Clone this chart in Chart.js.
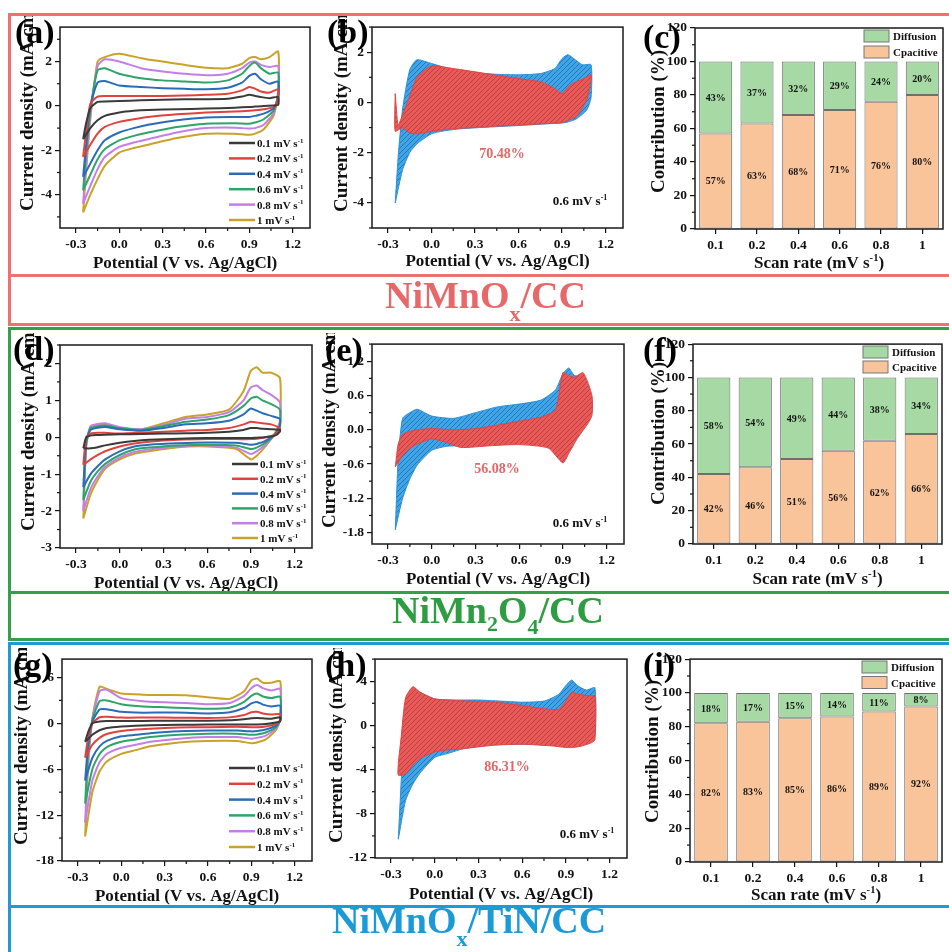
<!DOCTYPE html>
<html>
<head>
<meta charset="utf-8">
<script src="https://cdn.jsdelivr.net/npm/chart.js@4.4.1/dist/chart.umd.min.js"></script>
<style>
html, body { margin: 0; padding: 0; background: #fff; }
body { width: 949px; height: 952px; position: relative; overflow: hidden; font-family: 'Liberation Serif', 'Times New Roman', serif; }
#charts canvas { position: absolute; }
.frame { position: absolute; box-sizing: border-box; border: 3px solid; border-right: none; width: 945px; }
.hline { position: absolute; left: 8px; width: 941px; height: 3px; }
.lab { position: absolute; font-weight: bold; font-size: 34px; line-height: 34px; color: #000; }
.big { position: absolute; font-weight: bold; font-size: 38px; line-height: 38px; white-space: nowrap; }
.big sub { font-size: 22px; line-height: 0; }
</style>
</head>
<body>
<div id="charts"></div>

<div class="frame" style="left:8px;top:13px;height:313px;border-color:#ee7070"></div>
<div class="hline" style="top:274px;background:#ee7070"></div>
<div class="frame" style="left:8px;top:327px;height:314px;border-color:#34a04a"></div>
<div class="hline" style="top:591px;background:#34a04a"></div>
<div class="frame" style="left:8px;top:642px;height:400px;border-color:#1e9ad6"></div>
<div class="hline" style="top:905px;background:#1e9ad6"></div>

<div class="big" style="left:385px;top:276px;color:#e8686a">NiMnO<sub style="vertical-align:-13px">x</sub>/CC</div>
<div class="big" style="left:392px;top:591px;color:#2e9c40">NiMn<sub style="vertical-align:-8px">2</sub>O<sub style="vertical-align:-11px">4</sub>/CC</div>
<div class="big" style="left:332px;top:901px;color:#1b9ad8">NiMnO<sub style="vertical-align:-13px">x</sub>/TiN/CC</div>

<div class="lab" style="left:15px;top:15px">(a)</div>
<div class="lab" style="left:327px;top:15px">(b)</div>
<div class="lab" style="left:643px;top:20px">(c)</div>
<div class="lab" style="left:13px;top:332px">(d)</div>
<div class="lab" style="left:325px;top:333px">(e)</div>
<div class="lab" style="left:643px;top:333px">(f)</div>
<div class="lab" style="left:13px;top:648px">(g)</div>
<div class="lab" style="left:325px;top:648px">(h)</div>
<div class="lab" style="left:643px;top:648px">(i)</div>

<script>
// potential grids (V vs. Ag/AgCl): anodic sweep, then cathodic sweep
var potUp = [-0.25, -0.23, -0.2, -0.15, -0.1, 0.0, 0.15, 0.3, 0.45, 0.6, 0.75, 0.85, 0.9, 0.94, 0.98, 1.04, 1.1];
var potDown = [1.1, 1.07, 1.0, 0.94, 0.9, 0.8, 0.6, 0.4, 0.2, 0.1, 0.0, -0.1, -0.15, -0.2, -0.25];
var rateNames = ['0.1', '0.2', '0.4', '0.6', '0.8', '1'];
var cvColors = ['#3a3a3a', '#e0423d', '#2a6cb8', '#2ea36a', '#c47ee6', '#c9a228'];

// (a) NiMnOx/CC CV curves, one row per scan rate
var aUp = [
	[-1.5, -0.8, -0.1, 0.18, 0.2, 0.22, 0.25, 0.28, 0.3, 0.3, 0.32, 0.42, 0.5, 0.45, 0.4, 0.35, 0.4],
	[-2.3, -1.2, 0.1, 0.42, 0.45, 0.45, 0.45, 0.45, 0.47, 0.5, 0.55, 0.7, 0.85, 0.78, 0.65, 0.6, 0.75],
	[-3.2, -1.8, 0.0, 1.05, 1.12, 0.92, 0.85, 0.8, 0.77, 0.75, 0.82, 1.05, 1.35, 1.45, 1.2, 1.0, 1.1],
	[-3.8, -2.2, -0.2, 1.6, 1.7, 1.45, 1.25, 1.15, 1.1, 1.05, 1.15, 1.45, 1.8, 1.95, 1.7, 1.45, 1.5],
	[-4.4, -2.7, -0.4, 1.8, 2.1, 2.0, 1.7, 1.55, 1.45, 1.38, 1.45, 1.7, 1.95, 2.0, 1.85, 1.75, 1.8],
	[-4.8, -3.0, -0.6, 2.0, 2.2, 2.35, 2.15, 2.0, 1.85, 1.72, 1.7, 1.9, 2.15, 2.2, 2.1, 2.2, 2.45]
];
var aDown = [
	[0.05, 0.02, 0.0, -0.03, -0.05, -0.08, -0.12, -0.15, -0.18, -0.22, -0.3, -0.45, -0.65, -1.0, -1.5],
	[0.3, -0.05, -0.15, -0.2, -0.22, -0.25, -0.3, -0.38, -0.5, -0.6, -0.72, -0.95, -1.25, -1.75, -2.3],
	[0.4, -0.1, -0.35, -0.45, -0.5, -0.5, -0.52, -0.65, -0.85, -1.0, -1.2, -1.55, -2.0, -2.6, -3.2],
	[0.5, -0.2, -0.6, -0.75, -0.8, -0.78, -0.8, -0.95, -1.2, -1.35, -1.55, -1.95, -2.4, -3.1, -3.8],
	[0.6, -0.3, -0.85, -1.0, -1.02, -0.98, -1.0, -1.2, -1.5, -1.65, -1.85, -2.3, -2.85, -3.6, -4.4],
	[0.7, -0.4, -1.05, -1.25, -1.3, -1.25, -1.25, -1.45, -1.75, -1.9, -2.1, -2.7, -3.3, -4.0, -4.8]
];

// (d) NiMn2O4/CC
var dUp = [
	[-0.3, 0.0, 0.05, 0.06, 0.07, 0.08, 0.09, 0.1, 0.11, 0.12, 0.15, 0.2, 0.25, 0.25, 0.23, 0.22, 0.2],
	[-0.75, 0.0, 0.1, 0.12, 0.12, 0.1, 0.12, 0.15, 0.18, 0.2, 0.25, 0.35, 0.42, 0.4, 0.38, 0.35, 0.25],
	[-1.35, -0.1, 0.2, 0.26, 0.28, 0.22, 0.18, 0.25, 0.35, 0.38, 0.45, 0.62, 0.78, 0.72, 0.65, 0.58, 0.5],
	[-1.7, -0.15, 0.25, 0.3, 0.32, 0.25, 0.2, 0.3, 0.42, 0.48, 0.6, 0.85, 1.05, 1.1, 1.0, 0.9, 0.75],
	[-2.0, -0.2, 0.3, 0.36, 0.38, 0.27, 0.22, 0.33, 0.5, 0.55, 0.68, 1.0, 1.35, 1.4, 1.28, 1.15, 0.95],
	[-2.2, -0.25, 0.3, 0.34, 0.35, 0.25, 0.22, 0.38, 0.55, 0.62, 0.75, 1.25, 1.8, 1.9, 1.75, 1.75, 1.6]
];
var dDown = [
	[0.15, 0.05, 0.0, -0.01, -0.02, -0.02, -0.02, -0.04, -0.07, -0.1, -0.15, -0.22, -0.27, -0.3, -0.3],
	[0.2, 0.08, 0.0, -0.04, -0.05, -0.05, -0.05, -0.07, -0.12, -0.17, -0.25, -0.38, -0.48, -0.6, -0.75],
	[0.3, 0.1, -0.1, -0.18, -0.2, -0.15, -0.14, -0.16, -0.2, -0.25, -0.38, -0.6, -0.78, -1.0, -1.35],
	[0.35, 0.1, -0.15, -0.28, -0.32, -0.22, -0.2, -0.22, -0.28, -0.33, -0.48, -0.72, -0.92, -1.2, -1.7],
	[0.4, 0.1, -0.2, -0.38, -0.45, -0.28, -0.22, -0.25, -0.33, -0.4, -0.55, -0.8, -1.05, -1.4, -2.0],
	[0.45, 0.15, -0.25, -0.5, -0.6, -0.32, -0.25, -0.27, -0.38, -0.45, -0.6, -0.85, -1.15, -1.55, -2.2]
];

// (g) NiMnOx/TiN/CC
var gUp = [
	[-2.4, -1.2, 0.0, 0.25, 0.3, 0.3, 0.32, 0.35, 0.35, 0.35, 0.4, 0.55, 0.65, 0.7, 0.65, 0.6, 0.8],
	[-4.5, -2.0, 0.0, 0.8, 0.85, 0.75, 0.75, 0.75, 0.72, 0.7, 0.78, 1.1, 1.45, 1.5, 1.3, 1.15, 1.2],
	[-7.5, -3.0, 0.2, 1.8, 1.85, 1.5, 1.4, 1.42, 1.38, 1.3, 1.45, 2.0, 2.6, 2.8, 2.45, 2.2, 2.3],
	[-10.5, -4.0, 0.4, 2.9, 3.0, 2.5, 2.2, 2.1, 2.0, 1.9, 2.05, 2.8, 3.6, 3.9, 3.5, 3.3, 3.5],
	[-13.0, -5.0, 0.5, 4.2, 4.4, 3.3, 2.9, 2.75, 2.65, 2.5, 2.65, 3.6, 4.6, 5.0, 4.6, 4.3, 4.5],
	[-14.8, -6.0, 0.6, 4.8, 4.5, 3.9, 3.75, 3.7, 3.66, 3.4, 3.2, 4.2, 5.6, 5.85, 5.3, 5.3, 5.5]
];
var gDown = [
	[0.3, 0.1, -0.1, -0.15, -0.15, -0.15, -0.15, -0.2, -0.25, -0.3, -0.4, -0.6, -0.9, -1.5, -2.4],
	[0.35, -0.1, -0.4, -0.5, -0.5, -0.45, -0.5, -0.55, -0.7, -0.8, -1.0, -1.4, -1.9, -2.8, -4.5],
	[0.4, -0.3, -0.8, -1.0, -1.05, -0.95, -0.95, -1.05, -1.3, -1.5, -1.7, -2.3, -3.0, -4.5, -7.5],
	[0.45, -0.5, -1.2, -1.45, -1.5, -1.35, -1.35, -1.5, -1.8, -2.1, -2.4, -3.1, -4.0, -6.0, -10.5],
	[0.5, -0.7, -1.6, -1.9, -2.0, -1.8, -1.8, -2.0, -2.4, -2.8, -3.2, -4.0, -5.1, -7.5, -13.0],
	[0.55, -0.9, -2.1, -2.5, -2.6, -2.3, -2.3, -2.5, -3.0, -3.5, -4.0, -5.0, -6.3, -9.0, -14.8]
];

// (b)(e)(h) total current vs capacitive part at 0.6 mV s-1
var bTotUp = [-4.0, -2.2, -0.3, 1.3, 1.7, 1.55, 1.3, 1.18, 1.12, 1.1, 1.15, 1.35, 1.75, 1.9, 1.75, 1.5, 1.5];
var bTotDown = [0.2, -0.3, -0.65, -0.78, -0.82, -0.85, -0.92, -0.98, -1.05, -1.12, -1.25, -1.65, -2.0, -2.7, -4.0];
var bCapUp = [0.35, -0.9, -0.5, 0.25, 1.0, 1.45, 1.35, 1.22, 1.08, 0.95, 0.82, 0.55, 0.35, 0.6, 0.78, 0.92, 1.1];
var bCapDown = [0.9, 0.1, -0.55, -0.72, -0.8, -0.84, -0.9, -0.96, -1.03, -1.08, -1.15, -1.25, -1.22, -1.0, -1.15];

var eTotUp = [-1.75, -0.5, 0.2, 0.3, 0.36, 0.24, 0.2, 0.3, 0.4, 0.45, 0.52, 0.7, 0.98, 1.08, 0.95, 0.92, 0.5];
var eTotDown = [0.3, 0.2, 0.0, -0.15, -0.2, -0.22, -0.24, -0.26, -0.28, -0.29, -0.36, -0.62, -0.86, -1.2, -1.75];
var eCapUp = [-0.65, -0.25, -0.08, -0.03, 0.0, 0.02, 0.0, 0.02, 0.08, 0.15, 0.22, 0.35, 1.0, 0.95, 0.92, 1.0, 0.6];
var eCapDown = [0.25, 0.1, -0.15, -0.42, -0.58, -0.32, -0.26, -0.28, -0.31, -0.22, -0.16, -0.25, -0.33, -0.45, -0.65];

var hTotUp = [-10.3, -5.0, 2.0, 3.4, 3.0, 2.4, 2.3, 2.3, 2.2, 2.1, 2.2, 2.8, 3.6, 4.1, 3.6, 3.2, 3.4];
var hTotDown = [-0.8, -1.3, -1.6, -1.8, -1.9, -1.8, -1.7, -1.75, -2.1, -2.5, -2.9, -4.3, -5.3, -6.8, -10.3];
var hCapUp = [-3.4, -1.0, 2.5, 3.5, 3.0, 2.4, 2.25, 2.15, 2.05, 1.8, 1.5, 1.45, 2.2, 3.0, 2.85, 2.7, 2.6];
var hCapDown = [-1.3, -1.6, -1.9, -2.0, -2.0, -1.85, -1.7, -1.8, -2.1, -2.2, -2.4, -3.0, -3.6, -4.4, -4.5];

// (c)(f)(i) contribution bars (%)
var scanRates = ['0.1', '0.2', '0.4', '0.6', '0.8', '1'];
var cCap = [57, 63, 68, 71, 76, 80];
var cDiff = [43, 37, 32, 29, 24, 20];
var fCap = [42, 46, 51, 56, 62, 66];
var fDiff = [58, 54, 49, 44, 38, 34];
var iCap = [82, 83, 85, 86, 89, 92];
var iDiff = [18, 17, 15, 14, 11, 8];

// tick labels
var potTicks = [-0.3, 0.0, 0.3, 0.6, 0.9, 1.2];
var aTicks = [-4, -2, 0, 2];
var bTicks = [-4, -2, 0, 2];
var dTicks = [-3, -2, -1, 0, 1, 2];
var eTicks = [-1.8, -1.2, -0.6, 0.0, 0.6, 1.2];
var gTicks = [-18, -12, -6, 0, 6];
var hTicks = [-12, -8, -4, 0, 4];
var barTicks = [0, 20, 40, 60, 80, 100, 120];

var FONT = "'Liberation Serif', 'Times New Roman', serif";

function loop(up, down) {
	var pts = potUp.map(function(x, i) { return {x: x, y: up[i]}; })
		.concat(potDown.map(function(x, i) { return {x: x, y: down[i]}; }));
	pts.push(pts[0]);
	return pts;
}

function hatch(base, stripe) {
	var c = document.createElement('canvas');
	c.width = 5; c.height = 5;
	var g = c.getContext('2d');
	g.fillStyle = base;
	g.fillRect(0, 0, 5, 5);
	g.strokeStyle = stripe;
	g.lineWidth = 1;
	g.beginPath();
	g.moveTo(0, 5); g.lineTo(5, 0);
	g.moveTo(-1, 1); g.lineTo(1, -1);
	g.moveTo(4, 6); g.lineTo(6, 4);
	g.stroke();
	return g.createPattern(c, 'repeat');
}

// parts: [[text, isSuperscript], ...]
function drawRich(ctx, parts, x, y, size, align) {
	var w = 0;
	parts.forEach(function(p) {
		ctx.font = 'bold ' + (p[1] ? size * 0.62 : size) + 'px ' + FONT;
		w += ctx.measureText(p[0]).width;
	});
	var cx = align === 'center' ? x - w / 2 : x;
	parts.forEach(function(p) {
		var s = p[1] ? size * 0.62 : size;
		ctx.font = 'bold ' + s + 'px ' + FONT;
		ctx.fillText(p[0], cx, p[1] ? y - size * 0.4 : y);
		cx += ctx.measureText(p[0]).width;
	});
}

function decor(s) {
	return {
		id: 'decor',
		afterDraw: function(chart) {
			var ctx = chart.ctx, a = chart.chartArea;
			ctx.save();
			ctx.textBaseline = 'alphabetic';

			// minor ticks
			ctx.strokeStyle = '#111';
			ctx.lineWidth = 1.2;
			[['x', s.minorX], ['y', s.minorY]].forEach(function(m) {
				if (!m[1]) return;
				var sc = chart.scales[m[0]], step = m[1];
				var majors = sc.ticks.map(function(t) { return t.value; });
				for (var n = Math.ceil(sc.min / step - 1e-9); n * step <= sc.max + 1e-9; n++) {
					var v = n * step;
					if (majors.some(function(mv) { return Math.abs(mv - v) < step / 10; })) continue;
					var px = sc.getPixelForValue(v);
					ctx.beginPath();
					if (m[0] === 'x') { ctx.moveTo(px, a.bottom); ctx.lineTo(px, a.bottom + 3); }
					else { ctx.moveTo(a.left, px); ctx.lineTo(a.left - 3, px); }
					ctx.stroke();
				}
			});

			// frame
			ctx.strokeStyle = '#1a1a1a';
			ctx.lineWidth = 1.5;
			ctx.strokeRect(a.left, a.top, a.right - a.left, a.bottom - a.top);

			ctx.fillStyle = '#111';
			// x title
			drawRich(ctx, s.xTitle, (a.left + a.right) / 2, s.xTitleY - s.T, 17, 'center');

			// bar values and legend
			if (s.kind === 'bar') {
				ctx.textAlign = 'left';
				[0, 1].forEach(function(di) {
					var vals = chart.data.datasets[di].data;
					chart.getDatasetMeta(di).data.forEach(function(bar, j) {
						ctx.font = 'bold 10px ' + FONT;
						var t = vals[j] + '%';
						ctx.fillText(t, bar.x - ctx.measureText(t).width / 2, (bar.y + bar.base) / 2 + 3.5);
					});
				});
				[1, 0].forEach(function(di, k) {
					var ds = chart.data.datasets[di];
					var by = s.legendY[k] - s.T;
					ctx.fillStyle = ds.backgroundColor;
					ctx.fillRect(s.legendX - s.L, by - 6, 25, 12);
					ctx.strokeStyle = '#777';
					ctx.lineWidth = 1;
					ctx.strokeRect(s.legendX - s.L, by - 6, 25, 12);
					ctx.fillStyle = '#111';
					drawRich(ctx, [[ds.label]], s.legendX - s.L + 29, by + 4, 11, 'left');
				});
			}

			// scan-rate legend
			if (s.kind === 'cv') {
				chart.data.datasets.forEach(function(ds, i) {
					var ly = s.legend.y + i * s.legend.dy - s.T;
					var lx = s.legend.x - s.L;
					ctx.strokeStyle = ds.borderColor;
					ctx.lineWidth = 2.5;
					ctx.beginPath();
					ctx.moveTo(lx, ly); ctx.lineTo(lx + 26, ly);
					ctx.stroke();
					ctx.fillStyle = '#111';
					drawRich(ctx, [[rateNames[i] + ' mV s'], ['-1', true]], lx + 28, ly + 4, 11, 'left');
				});
			}

			// notes
			(s.notes || []).forEach(function(n) {
				ctx.fillStyle = n.color;
				drawRich(ctx, n.parts, n.x - s.L, n.y - s.T, n.size, 'center');
			});

			// y title (rotated)
			ctx.fillStyle = '#111';
			ctx.translate(s.yTitleX + 6.3 - s.L, s.yTitleY - s.T);
			ctx.rotate(-Math.PI / 2);
			drawRich(ctx, s.yTitle, 0, 0, 19, 'left');
			ctx.restore();
		}
	};
}

function linAxis(range, ticks, dec) {
	return {
		type: 'linear',
		min: range[0],
		max: range[1],
		afterBuildTicks: function(ax) { ax.ticks = ticks.map(function(v) { return {value: v}; }); },
		ticks: {
			callback: function(v) { return Number(v).toFixed(dec); },
			font: {family: FONT, size: 13.5, weight: 'bold'},
			color: '#111', padding: 3, maxRotation: 0, autoSkip: false
		},
		grid: {display: true, drawOnChartArea: false, drawTicks: true, tickLength: 5, color: '#111', lineWidth: 1.2},
		border: {display: false}
	};
}

function makePanel(s) {
	var cv = document.createElement('canvas');
	var W = s.R - s.L, H = s.B - s.T;
	cv.width = W; cv.height = H;
	cv.style.left = s.L + 'px';
	cv.style.top = s.T + 'px';
	cv.style.width = W + 'px';
	cv.style.height = H + 'px';
	document.getElementById('charts').appendChild(cv);

	var xh = s.B - s.box.b, yw = s.box.l - s.L;
	var x, y, data, type;
	if (s.kind === 'bar') {
		type = 'bar';
		x = {
			type: 'category', stacked: true, offset: true,
			ticks: {font: {family: FONT, size: 13.5, weight: 'bold'}, color: '#111', padding: 3, maxRotation: 0},
			grid: {display: true, offset: false, drawOnChartArea: false, drawTicks: true, tickLength: 5, color: '#111', lineWidth: 1.2},
			border: {display: false}
		};
		y = linAxis([0, 120], barTicks, 0);
		y.stacked = true;
		data = {
			labels: scanRates,
			datasets: [
				{label: 'Cpacitive', data: s.cap, backgroundColor: '#f9c49a', borderColor: '#6f6f6f', borderWidth: 1, borderSkipped: false, barPercentage: 0.8, categoryPercentage: 1},
				{label: 'Diffusion', data: s.diff, backgroundColor: '#a6d9a4', borderColor: '#6f6f6f', borderWidth: 1, borderSkipped: false, barPercentage: 0.8, categoryPercentage: 1}
			]
		};
	} else {
		type = 'scatter';
		x = linAxis([-0.41, 1.32], potTicks, 1);
		y = linAxis(s.yRange, s.yTicks, s.yDec);
		data = {datasets: s.sets};
	}
	x.afterFit = function(sc) { sc.height = xh; };
	y.afterFit = function(sc) { sc.width = yw; };

	new Chart(cv, {
		type: type,
		data: data,
		options: {
			responsive: false,
			animation: false,
			devicePixelRatio: 1,
			events: [],
			layout: {padding: {left: 0, top: s.box.t - s.T, right: s.R - s.box.r, bottom: 0}},
			plugins: {legend: {display: false}, tooltip: {enabled: false}},
			scales: {x: x, y: y}
		},
		plugins: [decor(s)]
	});
}

function cvSets(ups, downs) {
	return ups.map(function(u, i) {
		return {
			data: loop(u, downs[i]), showLine: true, borderColor: cvColors[i], borderWidth: 2,
			pointRadius: 0, tension: 0.2, fill: false
		};
	});
}

function shapeSets(capUp, capDown, totUp, totDown) {
	return [
		{data: loop(capUp, capDown), showLine: true, borderColor: '#e04545', borderWidth: 1, pointRadius: 0, tension: 0.2,
			fill: 'shape', backgroundColor: hatch('#e65a5a', '#c73b3b')},
		{data: loop(totUp, totDown), showLine: true, borderColor: '#2a90d8', borderWidth: 1, pointRadius: 0, tension: 0.2,
			fill: 'shape', backgroundColor: hatch('#41a4e4', '#1f79c2')}
	];
}

var cvY = [['Current density (mA cm'], ['-2', true], [')']];
var potX = [['Potential (V vs. Ag/AgCl)']];
var barY = [['Contribution (%)']];
var barX = [['Scan rate (mV s'], ['-1', true], [')']];
var rateNote = [['0.6 mV s'], ['-1', true]];

[
	{kind: 'cv', L: 10, T: 16, R: 318, B: 282, box: {l: 60, t: 27, r: 310, b: 228},
		sets: cvSets(aUp, aDown), yRange: [-5.5, 3.55], yTicks: aTicks, yDec: 0, minorX: 0.15, minorY: 1,
		legend: {x: 229, y: 143, dy: 15.4}, yTitle: cvY, yTitleX: 27, yTitleY: 211, xTitle: potX, xTitleY: 268},
	{kind: 'shape', L: 322, T: 16, R: 632, B: 282, box: {l: 372, t: 27, r: 623, b: 228},
		sets: shapeSets(bCapUp, bCapDown, bTotUp, bTotDown), yRange: [-5, 3], yTicks: bTicks, yDec: 0, minorX: 0.15, minorY: 1,
		notes: [{parts: [['70.48%']], x: 502, y: 158, size: 14, color: '#e06868'}, {parts: rateNote, x: 580, y: 205, size: 13, color: '#111'}],
		yTitle: cvY, yTitleX: 341, yTitleY: 212, xTitle: potX, xTitleY: 266},
	{kind: 'bar', L: 636, T: 16, R: 949, B: 282, box: {l: 695, t: 28, r: 943, b: 229},
		cap: cCap, diff: cDiff, minorY: 10, legendX: 864, legendY: [36, 52],
		yTitle: barY, yTitleX: 658, yTitleY: 193, xTitle: barX, xTitleY: 268},
	{kind: 'cv', L: 10, T: 333, R: 318, B: 597, box: {l: 60, t: 345, r: 312, b: 548},
		sets: cvSets(dUp, dDown), yRange: [-3, 2.5], yTicks: dTicks, yDec: 0, minorX: 0.15, minorY: 0.5,
		legend: {x: 232, y: 464, dy: 14.8}, yTitle: cvY, yTitleX: 28, yTitleY: 531, xTitle: potX, xTitleY: 588},
	{kind: 'shape', L: 316, T: 333, R: 632, B: 597, box: {l: 372, t: 342, r: 624, b: 544},
		sets: shapeSets(eCapUp, eCapDown, eTotUp, eTotDown), yRange: [-2.0, 1.5], yTicks: eTicks, yDec: 1, minorX: 0.15, minorY: 0.3,
		notes: [{parts: [['56.08%']], x: 497, y: 473, size: 14, color: '#e06868'}, {parts: rateNote, x: 580, y: 527, size: 13, color: '#111'}],
		yTitle: cvY, yTitleX: 329, yTitleY: 528, xTitle: potX, xTitleY: 584},
	{kind: 'bar', L: 636, T: 333, R: 949, B: 597, box: {l: 693, t: 343, r: 942, b: 544},
		cap: fCap, diff: fDiff, minorY: 10, legendX: 863, legendY: [352, 367],
		yTitle: barY, yTitleX: 658, yTitleY: 505, xTitle: barX, xTitleY: 584},
	{kind: 'cv', L: 10, T: 648, R: 318, B: 912, box: {l: 62, t: 658, r: 312, b: 861},
		sets: cvSets(gUp, gDown), yRange: [-18, 8.4], yTicks: gTicks, yDec: 0, minorX: 0.15, minorY: 3,
		legend: {x: 229, y: 768, dy: 15.8}, yTitle: cvY, yTitleX: 21, yTitleY: 845, xTitle: potX, xTitleY: 901},
	{kind: 'shape', L: 322, T: 648, R: 632, B: 912, box: {l: 375, t: 655, r: 627, b: 858},
		sets: shapeSets(hCapUp, hCapDown, hTotUp, hTotDown), yRange: [-12, 6], yTicks: hTicks, yDec: 0, minorX: 0.15, minorY: 2,
		notes: [{parts: [['86.31%']], x: 507, y: 771, size: 14, color: '#e06868'}, {parts: rateNote, x: 587, y: 838, size: 13, color: '#111'}],
		yTitle: cvY, yTitleX: 336, yTitleY: 843, xTitle: potX, xTitleY: 899},
	{kind: 'bar', L: 636, T: 648, R: 949, B: 912, box: {l: 690, t: 658, r: 942, b: 862},
		cap: iCap, diff: iDiff, minorY: 10, legendX: 862, legendY: [667, 682.5],
		yTitle: barY, yTitleX: 652, yTitleY: 823, xTitle: barX, xTitleY: 900}
].forEach(makePanel);
</script>
</body>
</html>
